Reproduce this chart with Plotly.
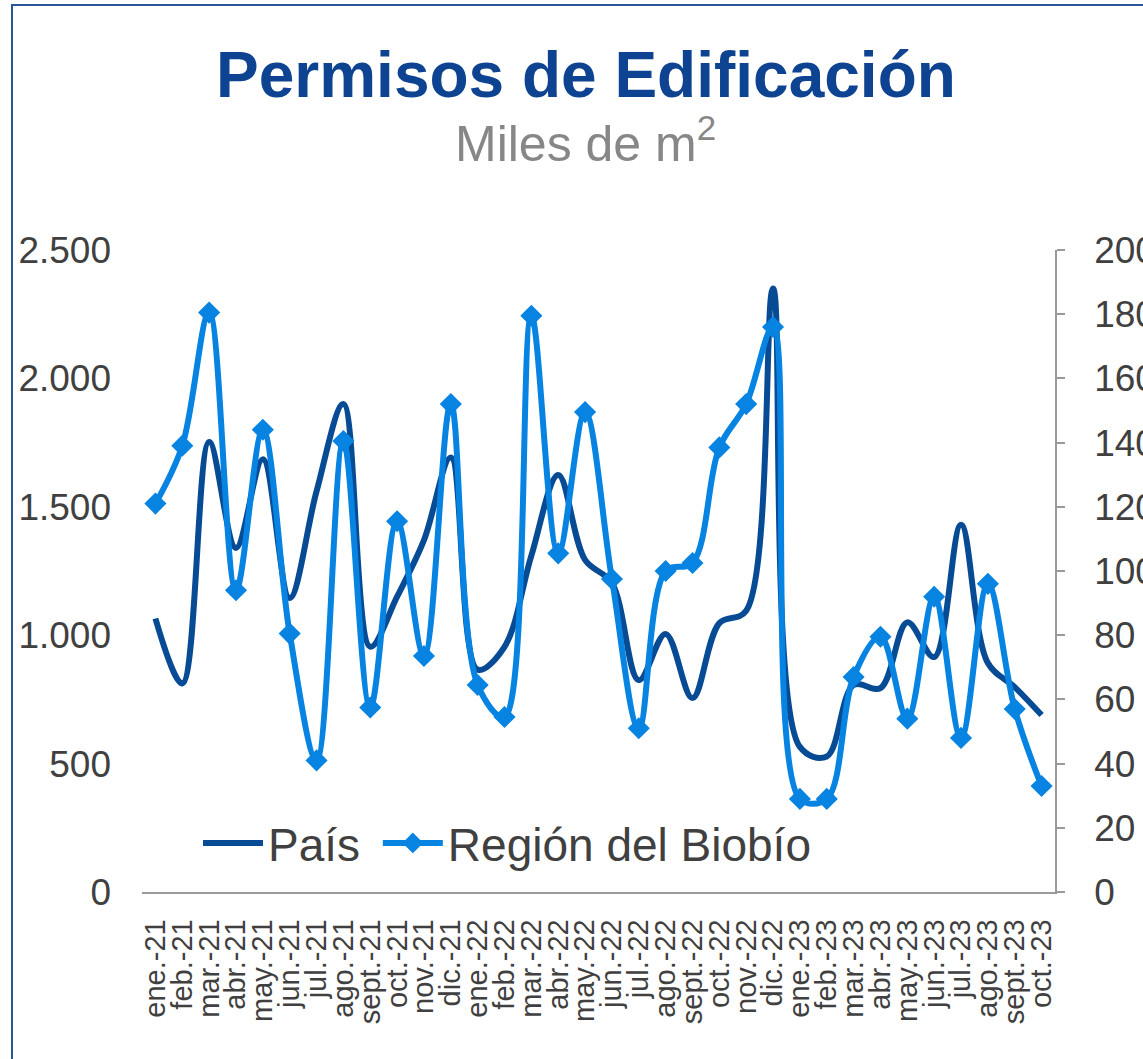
import plotly.graph_objects as go

months = ['ene.-21','feb.-21','mar.-21','abr.-21','may.-21','jun.-21','jul.-21','ago.-21',
          'sept.-21','oct.-21','nov.-21','dic.-21',
          'ene.-22','feb.-22','mar.-22','abr.-22','may.-22','jun.-22','jul.-22','ago.-22',
          'sept.-22','oct.-22','nov.-22','dic.-22',
          'ene.-23','feb.-23','mar.-23','abr.-23','may.-23','jun.-23','jul.-23','ago.-23',
          'sept.-23','oct.-23']

pais = [1065, 812, 1752, 1340, 1685, 1145, 1560, 1900, 955, 1150, 1370, 1692,
        866, 955, 1310, 1624, 1293, 1203, 825, 1005, 755, 1047, 1095, 2350,
        565, 528, 806, 794, 1050, 915, 1430, 892, 798, 689]

region = [121, 139, 180.5, 94, 144, 80.5, 41, 140.5, 57.5, 115.5, 73.5, 152,
          64.5, 54.5, 179.5, 105.5, 149.5, 97.5, 51, 100, 102.5, 138.5, 152, 176,
          29, 29, 67, 79.5, 54, 92, 48, 96, 57, 33]

left_ticks = [0, 500, 1000, 1500, 2000, 2500]
right_ticks = [0, 20, 40, 60, 80, 100, 120, 140, 160, 180, 200]

DARK = '#074B95'
LIGHT = '#0783E2'
TXT = '#404040'
FONT = 'Arial, Liberation Sans, sans-serif'

fig = go.Figure()
fig.add_trace(go.Scatter(
    x=months, y=pais, name='País\u00a0', mode='lines',
    line=dict(color=DARK, width=6, shape='spline', smoothing=1.0),
    yaxis='y'))
fig.add_trace(go.Scatter(
    x=months, y=region, name='Región del Biobío', mode='lines+markers',
    line=dict(color=LIGHT, width=6, shape='spline', smoothing=1.0),
    marker=dict(symbol='diamond', size=17, color=LIGHT),
    yaxis='y2'))

L, R, T, B = 142, 88, 250, 167
W, H = 1143, 1059
pw, ph = W - L - R, H - T - B

def px(xp):
    return (xp - L) / pw

def py(yp):
    return (H - B - yp) / ph

fig.update_layout(
    width=W, height=H,
    margin=dict(l=L, r=R, t=T, b=B, pad=0, autoexpand=False),
    paper_bgcolor='white', plot_bgcolor='white',
    separators=',.',
    font=dict(family=FONT, color=TXT),
    showlegend=True,
    legend=dict(orientation='h', x=px(198), y=py(843), xanchor='left', yanchor='middle',
                font=dict(size=46, color=TXT, family=FONT), bgcolor='rgba(0,0,0,0)',
                itemwidth=60, tracegroupgap=0),
    xaxis=dict(type='category', tickangle=-90, tickfont=dict(size=29, color=TXT),
               tickmode='array', tickvals=months, ticktext=months,
               showline=True, linecolor='#9A9A9A', linewidth=1.5, ticks='',
               showgrid=False, zeroline=False, ticklabelstandoff=14,
               range=[-0.5, len(months) - 0.5]),
    yaxis=dict(range=[0, 2500], tickvals=left_ticks, tickformat=',d',
               tickfont=dict(size=37, color=TXT), showgrid=False, zeroline=False,
               showline=False, ticks='', ticklabelstandoff=30),
    yaxis2=dict(range=[0, 200], tickvals=right_ticks, overlaying='y', side='right',
                tickfont=dict(size=37, color=TXT), showgrid=False, zeroline=False,
                showline=True, linecolor='#9A9A9A', linewidth=1.5,
                ticks='outside', ticklen=8, tickcolor='#9A9A9A', tickwidth=1.5,
                ticklabelstandoff=22),
    annotations=[
        dict(text='<b>Permisos de Edificación</b>', xref='paper', yref='paper',
             x=px(585.5), y=py(75), xanchor='center', yanchor='middle', showarrow=False,
             font=dict(size=64, color='#0D4391', family=FONT)),
        dict(text='Miles de m<sup>2</sup>', xref='paper', yref='paper',
             x=px(585), y=py(140), xanchor='center', yanchor='middle', showarrow=False,
             font=dict(size=50, color='#878787', family=FONT)),
    ],
    shapes=[
        dict(type='rect', xref='paper', yref='paper',
             x0=px(12), x1=px(1200), y0=py(1100), y1=py(5),
             line=dict(color='#2A5699', width=2), fillcolor='rgba(0,0,0,0)', layer='below'),
    ],
)

fig.write_html('out.html', config={'displayModeBar': False},
               post_script="document.body.style.margin='0';document.body.style.overflow='hidden';")
